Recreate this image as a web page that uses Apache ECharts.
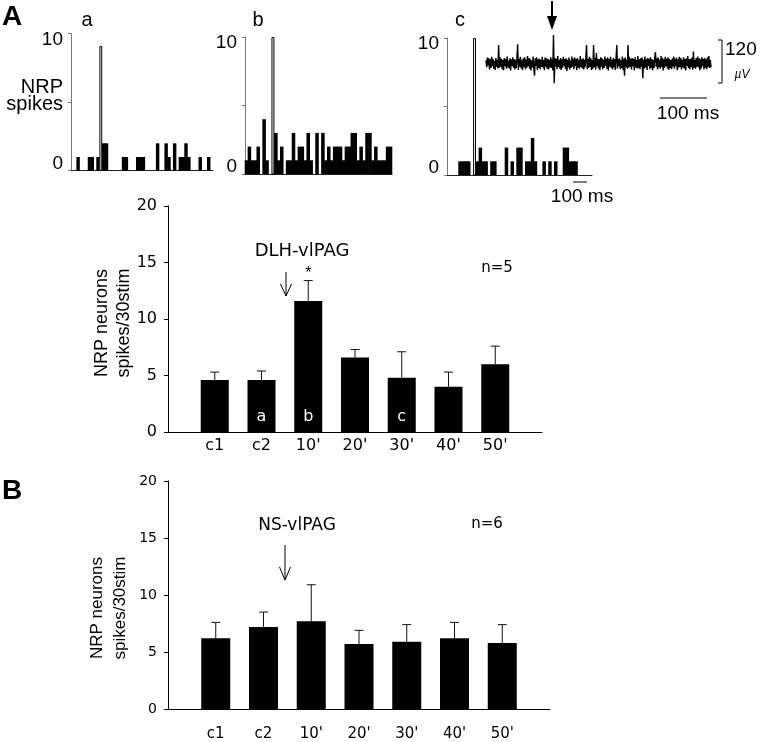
<!DOCTYPE html>
<html><head><meta charset="utf-8">
<script src="https://cdn.jsdelivr.net/npm/echarts/dist/echarts.min.js"></script>
<style>html,body{margin:0;padding:0;background:#fff}#c{width:760px;height:742px}</style>
</head><body><div id="c"></div>
<script>
// ---------- DATA ----------
// peristimulus histograms (50 bins), NRP spikes per bin
const histA = [0,0,1,0,0,0,1,1,0,1, 9.1,2,2,0,0,0,0,0,1,1, 0,0,0,1,1,1,0,0,0,0, 2,0,0,2,1,0,2,0,1,1, 2,1,0,0,0,1,0,0,1,0];
const histB = [1,2,1,1,2,0,4,1,0,10, 3,1,2,0,1,1,3,1,2,2, 1,3,1,0,3,0,3,1,2,1, 2,2,2,1,2,2,3,3,1,2, 1,3,3,1,2,1,1,1,2,2];
const histC = [0,0,0,0,1,1,1,1,0,10, 1,2,1,1,0,1,1,0,0,0, 2,0,1,0,2,2,0,1,1,2.7, 1,0,0,1,0,1,0,1,0,0, 2,2,1,1,1,0,0,0,0,0];
const stimA = 10, stimB = 9, stimC = 9;       // stimulus-artifact bin (open bar)
const histTickLabels = [0, 10];

// raw extracellular trace (µV), sampled every 1.5 ms
const traceStepMs = 1.5;
const traceUV = [
 8,-12,15,-7,13,-18,10,-14,17,-9,12,-16,6,-19,14,-11,9,-15,50,-13,
 16,-10,12,-17,8,-20,14,-9,11,-16,18,-12,7,-15,13,-21,10,-8,16,-13,
 11,-18,9,-14,15,52,-19,12,-10,17,-15,8,-20,13,-11,16,-17,10,-13,19,
 -9,14,-16,11,-21,7,-12,18,-15,-35,13,-8,16,-19,10,-14,12,-17,9,-11,
 17,-13,8,-20,15,-10,13,-16,11,-18,9,-12,16,-14,10,-21,78,-56,14,-9,
 12,-17,19,-11,8,-15,14,-19,10,-13,17,-8,11,-16,13,-22,9,-12,15,-18,
 7,-14,18,-10,12,-17,16,-9,11,-20,14,-13,8,-16,19,-11,10,-15,13,-18,
 9,-12,15,50,-17,11,-14,17,-10,13,-19,8,-16,50,-12,14,-18,28,-9,12,
 -15,10,-20,16,-11,13,-17,9,-14,18,-8,12,-16,15,-21,11,-10,17,-13,9,
 -18,14,-12,10,-19,16,50,-15,11,-9,13,-17,8,-14,18,-20,12,-35,15,-11,
 9,-16,50,-13,17,-10,12,-18,14,-9,11,-21,16,-12,8,-15,19,-14,10,-17,
 13,-11,15,-42,9,-16,18,-12,10,-19,14,-8,12,-17,16,-13,11,-20,8,-14,
 17,30,-10,13,-18,15,-12,9,-16,19,-11,14,-21,10,-13,17,-9,12,-15,16,
 -19,11,-14,8,-17,13,-10,18,-16,12,-9,15,-20,10,-13,17,-11,14,-18,9,
 -12,16,-15,11,-21,13,-8,19,-14,10,-17,12,-11,15,-19,32,-13,9,-16,14,
 -10,18,-12,13,-20,11,-15,16,-9,12,-18,14,-13,10,-17,15,-11,19,-14,8,
 -12];

// bar charts
const categories = ['c1','c2',"10'","20'","30'","40'","50'"];
const meanA = [4.6, 4.6, 11.6, 6.6, 4.8, 4.0, 6.0];
const semA  = [0.7, 0.8, 1.8, 0.7, 2.3, 1.3, 1.6];
const lettersA = ['', 'a', 'b', '', 'c', '', ''];
const sigA = ['', '', '*', '', '', '', ''];
const meanB = [6.2, 7.2, 7.7, 5.7, 5.9, 6.2, 5.8];
const semB  = [1.4, 1.3, 3.2, 1.2, 1.5, 1.4, 1.6];
const barTicks = [0, 5, 10, 15, 20];
const yTitleLines = ['NRP neurons', 'spikes/30stim'];

// ---------- CHART ----------
const chart = echarts.init(document.getElementById('c'), null, {renderer: 'canvas'});
const SANS = 'Liberation Sans';
const DEJ = 'DejaVu Sans';

function histXAxis(gi){
  return {type:'category', gridIndex:gi, data: histA.map((_, i) => String(i)), boundaryGap:true,
    axisLine:{show:true, lineStyle:{color:'#222', width:1}}, axisTick:{show:false}, axisLabel:{show:false}};
}
function histYAxis(gi){
  return {type:'value', gridIndex:gi, min:0, max:10, interval:5,
    axisLine:{show:true, lineStyle:{color:'#777', width:1}},
    axisTick:{show:true, length:3, lineStyle:{color:'#777'}},
    splitLine:{show:false},
    axisLabel:{margin:8, color:'#000',
      formatter: v => v === histTickLabels[1] ? '{t|' + v + '}' : (v === histTickLabels[0] ? '{z|' + v + '}' : ''),
      rich:{ t:{padding:[12,0,0,0], fontSize:19, fontFamily:SANS, color:'#000'},
             z:{padding:[0,0,14,0], fontSize:19, fontFamily:SANS, color:'#000'} }}};
}
// filled bins (one seamless rect per bin, slightly overlapping neighbours)
function histSeries(gi, arr, stim){
  return {type:'custom', xAxisIndex:gi, yAxisIndex:gi, animation:false, z:2,
    data: arr.map((v, i) => [i, i === stim ? 0 : v]),
    renderItem: (params, api) => {
      const v = api.value(1);
      if (!v) return null;
      const top = api.coord([api.value(0), v]), base = api.coord([api.value(0), 0]);
      const w = api.size([1, 0])[0];
      return {type:'rect', shape:{x:top[0] - w/2 - 0.3, y:top[1], width:w + 0.6, height:base[1] - top[1]},
        style:{fill:'#000'}};
    }};
}
// open stimulus-artifact bin
function stimSeries(gi, arr, stim){
  return {type:'custom', xAxisIndex:gi, yAxisIndex:gi, animation:false, z:3,
    data: [[stim, arr[stim]]],
    renderItem: (params, api) => {
      const top = api.coord([api.value(0), api.value(1)]), base = api.coord([api.value(0), 0]);
      const w = api.size([1, 0])[0];
      return {type:'rect', shape:{x:top[0] - w/2 + 0.5, y:top[1] + 0.5, width:w - 1, height:base[1] - top[1] - 0.5},
        style:{fill:'#fff', stroke:'#000', lineWidth:1}};
    }};
}
function catData(){ return [''].concat(categories, ['']); }
function padded(arr){ return ['-'].concat(arr, ['-']); }

function errSeries(gi, mean, sem, sig){
  return {type:'custom', xAxisIndex:gi, yAxisIndex:gi, animation:false, z:5,
    data: mean.map((m, i) => [i + 1, m, sem[i]]),
    renderItem: (params, api) => {
      const x = api.value(0), m = api.value(1), s = api.value(2);
      const p0 = api.coord([x, m]), p1 = api.coord([x, m + s]);
      const ch = [
        {type:'line', shape:{x1:p0[0], y1:p0[1], x2:p1[0], y2:p1[1]}, style:{stroke:'#111', lineWidth:1}},
        {type:'line', shape:{x1:p1[0]-4.5, y1:p1[1], x2:p1[0]+4.5, y2:p1[1]}, style:{stroke:'#111', lineWidth:1}}
      ];
      const star = sig ? sig[params.dataIndex] : '';
      if (star) ch.push({type:'text', style:{text:star, x:p1[0], y:p1[1]+1, align:'center', verticalAlign:'bottom',
        fontSize:16, fontFamily:SANS, fill:'#000'}});
      return {type:'group', children:ch};
    }};
}

function barYAxis(gi, fs){
  return {type:'value', gridIndex:gi, min:0, max:20, interval:5,
    axisLine:{show:true, lineStyle:{color:'#000', width:1}},
    axisTick:{show:true, length:4, lineStyle:{color:'#000'}},
    splitLine:{show:false},
    axisLabel:{margin:11, color:'#000', fontSize:fs, fontFamily:DEJ,
      formatter: v => barTicks.indexOf(v) >= 0 ? String(v) : ''}};
}
function barXAxis(gi, fs, margin){
  return {type:'category', gridIndex:gi, data:catData(), boundaryGap:false,
    axisLine:{show:true, lineStyle:{color:'#000', width:1}}, axisTick:{show:false},
    axisLabel:{interval:0, margin:margin, fontSize:fs, fontFamily:DEJ, color:'#000'}};
}

const txt = (t, x, y, fs, extra) => ({type:'text', silent:true,
  style:Object.assign({text:t, x:x, y:y, fontSize:fs, fontFamily:SANS, fill:'#000', align:'center', verticalAlign:'middle'}, extra || {})});
const rtxt = (t, x, y, fs) => ({type:'text', silent:true, x:x, y:y, rotation:Math.PI/2,
  style:{text:t, x:0, y:0, fontSize:fs, fontFamily:SANS, fill:'#000', align:'center', verticalAlign:'middle'}});
const ln = (x1, y1, x2, y2, w) => ({type:'line', silent:true, shape:{x1, y1, x2, y2}, style:{stroke:'#000', lineWidth:w || 1}});
const pl = (pts, w) => ({type:'polyline', silent:true, shape:{points:pts}, style:{stroke:'#000', lineWidth:w || 1, fill:null}});

const option = {
  animation:false,
  backgroundColor:'#fff',
  grid:[
    {left:71,  top:33.7, width:142, height:137},
    {left:245, top:37,   width:147, height:137},
    {left:447, top:38,   width:145, height:137},
    {left:486, top:27,   width:225, height:72},
    {left:168, top:206,  width:374, height:226},
    {left:168, top:481,  width:382, height:233}
  ],
  xAxis:[
    histXAxis(0), histXAxis(1), histXAxis(2),
    {type:'value', gridIndex:3, min:0, max:480, show:false},
    barXAxis(4, 16, 6), barXAxis(5, 15, 18)
  ],
  yAxis:[
    histYAxis(0), histYAxis(1), histYAxis(2),
    {type:'value', gridIndex:3, min:-100, max:100, show:false},
    barYAxis(4, 16), barYAxis(5, 14)
  ],
  series:[
    histSeries(0, histA, stimA), stimSeries(0, histA, stimA),
    histSeries(1, histB, stimB), stimSeries(1, histB, stimB),
    histSeries(2, histC, stimC), stimSeries(2, histC, stimC),
    {type:'line', xAxisIndex:3, yAxisIndex:3, showSymbol:false, animation:false,
      lineStyle:{color:'#000', width:1.4},
      data: traceUV.map((v, i) => [i * traceStepMs, v])},
    {type:'bar', xAxisIndex:4, yAxisIndex:4, barWidth:28, animation:false, itemStyle:{color:'#000'},
      data: padded(meanA.map((m, i) => lettersA[i] ? {value:m, label:{show:true, formatter:lettersA[i],
        position:'insideBottom', distance:7, color:'#fff', fontSize:16, fontFamily:DEJ}} : m))},
    errSeries(4, meanA, semA, sigA),
    {type:'bar', xAxisIndex:5, yAxisIndex:5, barWidth:29, animation:false, itemStyle:{color:'#000'},
      data: padded(meanB)},
    errSeries(5, meanB, semB, null)
  ],
  graphic:[
    txt('A', 12, 17, 28, {fontWeight:'bold'}),
    txt('B', 12, 491, 28, {fontWeight:'bold'}),
    txt('a', 87, 20, 20), txt('b', 258, 20, 20), txt('c', 460, 20, 20),
    txt('NRP', 63, 87, 20, {align:'right'}),
    txt('spikes', 63, 104, 20, {align:'right'}),
    // y-axis titles of bar charts
    rtxt(yTitleLines[0], 102, 323, 18), rtxt(yTitleLines[1], 124, 323, 18),
    rtxt(yTitleLines[0], 97, 608, 17), rtxt(yTitleLines[1], 120, 608, 17),
    // raw trace annotations
    ln(552, 1, 552, 18, 2),
    {type:'polygon', silent:true, shape:{points:[[547,16],[557,16],[552,30]]}, style:{fill:'#000'}},
    pl([[718,40],[722,40],[722,83],[718,83]], 1),
    txt('120', 725, 50, 19, {align:'left'}),
    txt('µV', 742, 75, 12, {fontStyle:'italic'}),
    ln(660, 98, 707, 98, 1),
    txt('100 ms', 688, 114, 19),
    ln(573, 182, 587, 182, 1),
    txt('100 ms', 582, 197, 19),
    // panel A annotations
    txt('DLH-vlPAG', 302, 251, 18, {fontFamily:DEJ}),
    ln(286, 272, 286, 296, 1),
    pl([[280.5,284],[286,296],[291.5,284]], 1),
    txt('n=5', 497, 268, 15, {fontFamily:DEJ}),
    // panel B annotations
    txt('NS-vlPAG', 297, 526, 17, {fontFamily:DEJ}),
    ln(285, 545, 285, 580, 1),
    pl([[279.5,567],[285,580],[290.5,567]], 1),
    txt('n=6', 487, 524, 15, {fontFamily:DEJ})
  ]
};
chart.setOption(option);
</script>
</body></html>
